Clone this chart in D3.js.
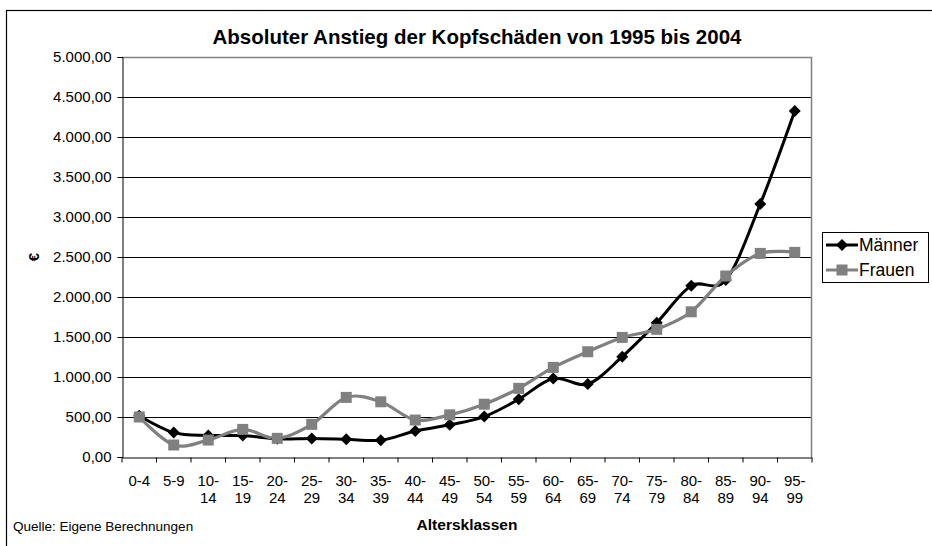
<!DOCTYPE html>
<html>
<head>
<meta charset="utf-8">
<script src="https://cdn.jsdelivr.net/npm/d3@7"></script>
<style>
  body { margin: 0; background: #fff; }
  svg { display: block; font-family: "Liberation Sans", Arial, sans-serif; }
</style>
</head>
<body>
<svg id="chart" width="932" height="546"></svg>
<script>
const categories = ["0-4", "5-9", "10-14", "15-19", "20-24", "25-29", "30-34", "35-39", "40-44", "45-49",
  "50-54", "55-59", "60-64", "65-69", "70-74", "75-79", "80-84", "85-89", "90-94", "95-99"];
const maenner = [515, 305, 270, 268, 228, 232, 222, 210, 325, 402,
  505, 722, 982, 912, 1254, 1678, 2140, 2212, 3162, 4325];
const frauen = [500, 150, 212, 345, 233, 408, 745, 690, 462, 527,
  660, 858, 1120, 1316, 1495, 1596, 1815, 2262, 2545, 2558];
const yTicks = [0, 500, 1000, 1500, 2000, 2500, 3000, 3500, 4000, 4500, 5000];

const svg = d3.select("#chart");
const plotL = 122, plotR = 812, plotT = 57, plotB = 457;

const x = d3.scaleBand().domain(categories).range([plotL, plotR]);
const y = d3.scaleLinear().domain([0, 5000]).range([plotB, plotT]);
const fmt = d3.formatLocale({ decimal: ",", thousands: ".", grouping: [3], currency: ["", "€"] }).format(",.2f");

// outer frame
svg.append("rect")
  .attr("x", 6.5).attr("y", 10.5)
  .attr("width", 940).attr("height", 560)
  .attr("fill", "none").attr("stroke", "#000").attr("stroke-width", 1.2);

// gridlines
svg.append("g")
  .selectAll("line")
  .data(yTicks.filter((d) => d > 0 && d < 5000))
  .join("line")
  .attr("x1", plotL).attr("x2", plotR)
  .attr("y1", (d) => Math.round(y(d)) + 0.5).attr("y2", (d) => Math.round(y(d)) + 0.5)
  .attr("stroke", "#000").attr("stroke-width", 1);

// plot area border (top, right)
svg.append("path")
  .attr("d", `M${plotL},${plotT + 0.5}H${plotR - 0.5}V${plotB}`)
  .attr("fill", "none").attr("stroke", "#808080").attr("stroke-width", 1.5);

// y axis
const yAxis = svg.append("g")
  .attr("transform", `translate(${plotL + 0.5},0)`)
  .call(d3.axisLeft(y).tickValues(yTicks).tickFormat(fmt).tickSize(5).tickPadding(6));
yAxis.attr("font-size", null).attr("font-family", null);
yAxis.select(".domain").attr("stroke", "#000");
yAxis.selectAll("text").attr("font-size", 15).attr("fill", "#000");

// x axis
const xAxis = svg.append("g")
  .attr("transform", `translate(0,${plotB + 0.5})`)
  .call(d3.axisBottom(x).tickSize(0).tickFormat(""));
xAxis.select(".domain").attr("stroke", "#000");
xAxis.selectAll(".sep")
  .data(d3.range(categories.length + 1))
  .join("line")
  .attr("class", "sep")
  .attr("x1", (i) => plotL + i * x.bandwidth()).attr("x2", (i) => plotL + i * x.bandwidth())
  .attr("y1", 0).attr("y2", 5)
  .attr("stroke", "#000");

const xl = svg.append("g")
  .selectAll("text")
  .data(categories)
  .join("text")
  .attr("x", (d) => x(d) + x.bandwidth() / 2)
  .attr("y", 486)
  .attr("text-anchor", "middle")
  .attr("font-size", 15);
xl.each(function (d) {
  const t = d3.select(this);
  const parts = d.length > 3 ? [d.split("-")[0] + "-", d.split("-")[1]] : [d];
  parts.forEach((p, i) => {
    t.append("tspan").attr("x", x(d) + x.bandwidth() / 2).attr("dy", i === 0 ? 0 : 17).text(p);
  });
});

// series
const curve = d3.curveCardinal.tension(0);
const line = d3.line()
  .x((d, i) => x(categories[i]) + x.bandwidth() / 2)
  .y((d) => y(d))
  .curve(curve);

svg.append("path").datum(maenner)
  .attr("d", line).attr("fill", "none").attr("stroke", "#000").attr("stroke-width", 3);
svg.append("path").datum(frauen)
  .attr("d", line).attr("fill", "none").attr("stroke", "#808080").attr("stroke-width", 3.2);

svg.append("g").selectAll("path")
  .data(maenner)
  .join("path")
  .attr("transform", (d, i) => `translate(${x(categories[i]) + x.bandwidth() / 2},${y(d)})`)
  .attr("d", "M0,-6L6,0L0,6L-6,0Z")
  .attr("fill", "#000");

svg.append("g").selectAll("rect")
  .data(frauen)
  .join("rect")
  .attr("x", (d, i) => x(categories[i]) + x.bandwidth() / 2 - 5.5)
  .attr("y", (d) => y(d) - 5.5)
  .attr("width", 11).attr("height", 11)
  .attr("fill", "#808080");

// title
svg.append("text")
  .attr("x", 477).attr("y", 44)
  .attr("text-anchor", "middle")
  .attr("font-size", 20.5).attr("font-weight", "bold")
  .text("Absoluter Anstieg der Kopfschäden von 1995 bis 2004");

// y axis title
svg.append("text")
  .attr("transform", "translate(39,257) rotate(-90)")
  .attr("text-anchor", "middle")
  .attr("font-size", 15).attr("font-weight", "bold")
  .text("€");

// x axis title
svg.append("text")
  .attr("x", 467).attr("y", 530)
  .attr("text-anchor", "middle")
  .attr("font-size", 15.5).attr("font-weight", "bold")
  .text("Altersklassen");

svg.append("text")
  .attr("x", 13).attr("y", 531)
  .attr("font-size", 13.5)
  .text("Quelle: Eigene Berechnungen");

// legend
const lg = svg.append("g");
lg.append("rect")
  .attr("x", 822.5).attr("y", 232.5).attr("width", 106).attr("height", 50)
  .attr("fill", "#fff").attr("stroke", "#000");
const items = [
  { name: "Männer", color: "#000", shape: "diamond" },
  { name: "Frauen", color: "#808080", shape: "square" },
];
items.forEach((it, i) => {
  const cy = 245 + i * 25;
  lg.append("line").attr("x1", 826).attr("x2", 858).attr("y1", cy).attr("y2", cy)
    .attr("stroke", it.color).attr("stroke-width", 3);
  if (it.shape === "diamond") {
    lg.append("path").attr("transform", `translate(842,${cy})`).attr("d", "M0,-6L6,0L0,6L-6,0Z").attr("fill", it.color);
  } else {
    lg.append("rect").attr("x", 836.5).attr("y", cy - 5.5).attr("width", 11).attr("height", 11).attr("fill", it.color);
  }
  lg.append("text").attr("x", 859).attr("y", cy + 6).attr("font-size", 17.5).text(it.name);
});
</script>
</body>
</html>
